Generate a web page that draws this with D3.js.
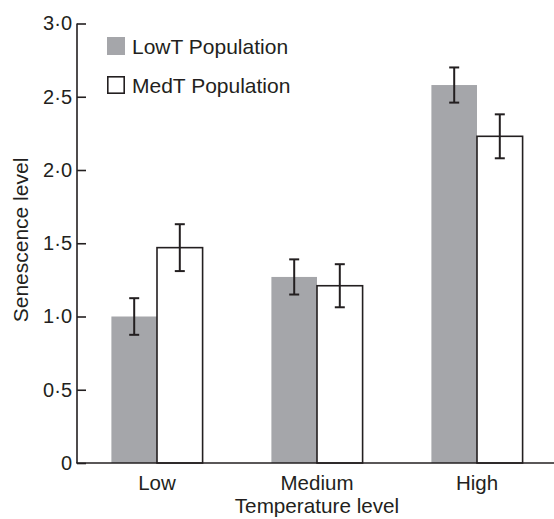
<!DOCTYPE html>
<html>
<head>
<meta charset="utf-8">
<script src="https://cdn.jsdelivr.net/npm/d3@7"></script>
<style>
  html, body { margin: 0; padding: 0; background: #fff; }
  svg text { font-family: "Liberation Sans", Arial, Helvetica, sans-serif; fill: #231f20; }
</style>
</head>
<body>
<svg id="chart" width="554" height="519"></svg>
<script>
const categories = ["Low", "Medium", "High"];
const seriesNames = ["LowT Population", "MedT Population"];
const lowT = [1.00, 1.27, 2.58];
const lowTErr = [0.125, 0.12, 0.12];
const medT = [1.47, 1.21, 2.23];
const medTErr = [0.16, 0.147, 0.15];
const yTicks = [0, 0.5, 1.0, 1.5, 2.0, 2.5, 3.0];

const values = [lowT, medT];
const errs = [lowTErr, medTErr];
const rows = [];
categories.forEach((c, i) => {
  seriesNames.forEach((s, j) => {
    rows.push({ cat: c, series: s, value: values[j][i], err: errs[j][i] });
  });
});

const ink = "#231f20";
const grey = "#a5a6aa";
const svg = d3.select("#chart");

const y = d3.scaleLinear().domain([0, 3]).range([463, 23.5]);
const x0 = d3.scaleBand().domain(categories).range([77, 557]).paddingInner(0.43).paddingOuter(0.215);
const x1 = d3.scaleBand().domain(seriesNames).range([0, x0.bandwidth()]);
const fill = d3.scaleOrdinal().domain(seriesNames).range([grey, "#ffffff"]);
const stroke = d3.scaleOrdinal().domain(seriesNames).range(["none", ink]);

// bars
svg.append("g").selectAll("rect").data(rows).join("rect")
  .attr("x", d => x0(d.cat) + x1(d.series))
  .attr("y", d => y(d.value))
  .attr("width", x1.bandwidth())
  .attr("height", d => y(0) - y(d.value))
  .attr("fill", d => fill(d.series))
  .attr("stroke", d => stroke(d.series))
  .attr("stroke-width", 1.6);

// error bars
const eb = svg.append("g").attr("stroke", ink).attr("stroke-width", 2);
rows.forEach(d => {
  const cx = x0(d.cat) + x1(d.series) + x1.bandwidth() / 2;
  eb.append("line").attr("x1", cx).attr("x2", cx).attr("y1", y(d.value + d.err)).attr("y2", y(d.value - d.err));
  eb.append("line").attr("x1", cx - 5).attr("x2", cx + 5).attr("y1", y(d.value + d.err)).attr("y2", y(d.value + d.err));
  eb.append("line").attr("x1", cx - 5).attr("x2", cx + 5).attr("y1", y(d.value - d.err)).attr("y2", y(d.value - d.err));
});

// y axis
const yAxis = d3.axisLeft(y).tickValues(yTicks).tickSize(-9).tickPadding(5)
  .tickFormat(d => d === 0 ? "0" : d.toFixed(1).replace(".", "\u00B7"));
const gy = svg.append("g").attr("transform", "translate(77,0)").call(yAxis);
gy.select(".domain").remove();
gy.selectAll(".tick line").attr("stroke", ink).attr("stroke-width", 1.6);
gy.selectAll(".tick text").attr("font-size", 20).attr("fill", ink);
svg.append("line").attr("x1", 77).attr("x2", 77).attr("y1", y(3)).attr("y2", y(0))
  .attr("stroke", ink).attr("stroke-width", 1.6);

// x axis
const xAxis = d3.axisBottom(x0).tickSize(0).tickPadding(12);
const gx = svg.append("g").attr("transform", `translate(0,${y(0)})`).call(xAxis);
gx.select(".domain").remove();
gx.selectAll(".tick text").attr("font-size", 20.5).attr("fill", ink);
svg.append("line").attr("x1", 76.2).attr("x2", 554).attr("y1", y(0)).attr("y2", y(0))
  .attr("stroke", ink).attr("stroke-width", 1.6);

// axis titles
svg.append("text").attr("x", 317).attr("y", 513).attr("text-anchor", "middle")
  .attr("font-size", 20.7).text("Temperature level");
svg.append("text").attr("transform", "translate(28,240) rotate(-90)").attr("text-anchor", "middle")
  .attr("font-size", 21).text("Senescence level");

// legend
const lg = svg.append("g");
seriesNames.forEach((s, i) => {
  const ly = 37 + i * 39;
  lg.append("rect").attr("x", i === 0 ? 107 : 107.8).attr("y", i === 0 ? ly : ly + 0.8)
    .attr("width", i === 0 ? 18 : 16.4).attr("height", i === 0 ? 18 : 16.4)
    .attr("fill", fill(s)).attr("stroke", stroke(s)).attr("stroke-width", 1.6);
  lg.append("text").attr("x", 132).attr("y", ly + 17).attr("font-size", 21).text(s);
});
</script>
</body>
</html>
